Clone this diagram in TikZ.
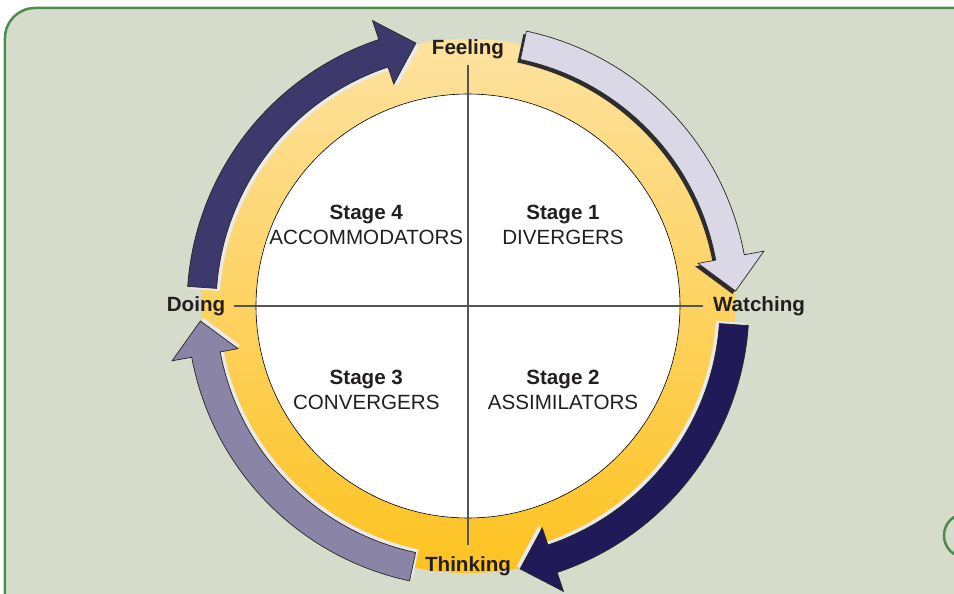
\documentclass[tikz,border=0pt]{standalone}
\usepackage{fontspec}
\setmainfont{Liberation Sans}
\usetikzlibrary{calc}
\definecolor{sage}{RGB}{214,220,203}
\definecolor{boxgreen}{RGB}{76,140,76}
\definecolor{ringtop}{RGB}{253,226,160}
\definecolor{ringbot}{RGB}{253,195,33}
\definecolor{arrowA}{RGB}{218,216,230}
\definecolor{arrowB}{RGB}{32,26,88}
\definecolor{arrowC}{RGB}{138,132,167}
\definecolor{arrowD}{RGB}{62,57,108}
\definecolor{shadelight}{RGB}{234,234,234}
\definecolor{shadedark}{RGB}{45,45,45}
\definecolor{textgrey}{RGB}{35,31,32}
\definecolor{linegrey}{RGB}{85,85,85}
\tikzset{
  pole/.style={font=\fontsize{20.6}{24}\selectfont\bfseries, text=textgrey, anchor=base, inner sep=0pt},
  stagehead/.style={pole},
  stagename/.style={font=\fontsize{20.6}{24}\selectfont, text=textgrey, anchor=base, inner sep=0pt},
  arrowshape/.style={insert path={(78:281) arc (78:10.5:281) -- (10.5:301) -- (3.2:268)
    -- (10.5:234) -- (10.5:252) arc (10.5:78:252) -- cycle}}
}

\begin{document}
\begin{tikzpicture}[x=1pt,y=1pt]
\useasboundingbox (-468,-288) rectangle (486,306);
\fill[white] (-468,-288) rectangle (486,306);
%panel
\draw[boxgreen, line width=2.5, fill=sage, rounded corners=30] (-463,298) rectangle (540,-340);
\draw[boxgreen, line width=2.5] (498,-229.5) circle (22);
%ring
\shade[top color=ringtop, bottom color=ringbot] (0,0) circle (267);
\draw[fill=white, line width=0.6] (0,0) circle (212);
%arrows
\foreach \rot/\col/\shd in {0/arrowA/shadedark, -82/arrowB/shadelight, -180/arrowC/shadelight, 98/arrowD/shadelight}{
  \begin{scope}[rotate=\rot]
  \fill[\shd, shift={(-3,-3)}, arrowshape];
  \draw[fill=\col, draw=black!85, line width=0.7, arrowshape];
  \end{scope}
}
%cross
\coordinate (top) at (0,241);
\coordinate (bottom) at (0,-239);
\coordinate (left) at (-234,0);
\coordinate (right) at (235,0);
\draw[linegrey, line width=1.5] (top) -- (bottom);
\draw[linegrey, line width=1.5] (left) -- (right);
%poles
\node[pole] (feeling) at (0,251) {Feeling};
\node[pole] (watching) at (291,-5.7) {Watching};
\node[pole] (thinking) at (0,-265.7) {Thinking};
\node[pole] (doing) at (-272,-5.7) {Doing};
%stages
\node[stagehead] (stage1) at (95,86.7) {Stage 1};
\node[stagename] (type1) at (95,61) {DIVERGERS};
\node[stagehead] (stage2) at (95,-79) {Stage 2};
\node[stagename] (type2) at (95,-103.3) {ASSIMILATORS};
\node[stagehead] (stage3) at (-101.7,-79) {Stage 3};
\node[stagename] (type3) at (-101.7,-103.3) {CONVERGERS};
\node[stagehead] (stage4) at (-101.7,86.7) {Stage 4};
\node[stagename] (type4) at (-101.7,61) {ACCOMMODATORS};
\end{tikzpicture}
\end{document}
